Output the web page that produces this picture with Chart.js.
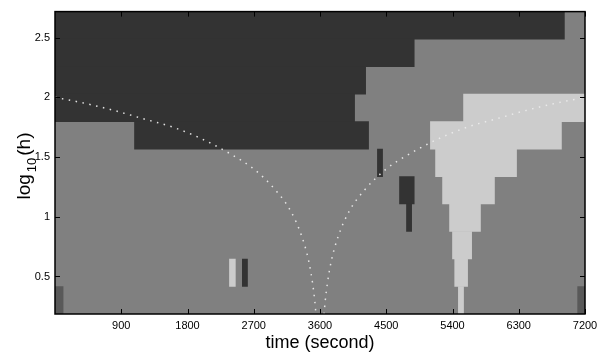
<!DOCTYPE html>
<html>
<head>
<meta charset="utf-8">
<script src="https://cdn.jsdelivr.net/npm/chart.js@4.4.1/dist/chart.umd.min.js"></script>
<style>
  html, body { margin: 0; padding: 0; background: #fff; }
  #wrap { width: 607px; height: 355px; position: relative; }
</style>
</head>
<body>
<div id="wrap"><canvas id="c"></canvas></div>
<script>
  // row centres in log10(h), bottom row first
  const hRows = [0.301, 0.531, 0.761, 0.991, 1.221, 1.451, 1.681, 1.911, 2.142, 2.372, 2.602];

  // cells per class: [row, start second, end second]
  const darkCells = [
    [10, 0, 6920], [9, 0, 4880], [8, 0, 4220], [7, 0, 4070], [6, 1080, 4260],
    [5, 4380, 4450], [4, 4680, 4880], [3, 4775, 4845], [1, 2545, 2615]
  ];
  const lightCells = [
    [7, 5550, 7200], [6, 5100, 6880], [5, 5170, 6270], [4, 5265, 5970],
    [3, 5360, 5780], [2, 5400, 5660], [1, 5430, 5605], [1, 2370, 2450], [0, 5480, 5550]
  ];
  const edgeCells = [[0, 0, 110], [0, 7100, 7200]];

  // dotted guide curves
  const leftT  = [0, 400, 800, 1200, 1600, 2000, 2400, 2700, 3000, 3200, 3350, 3450, 3500, 3530, 3545];
  const leftY  = [2.00, 1.95, 1.89, 1.82, 1.75, 1.65, 1.52, 1.40, 1.22, 1.05, 0.84, 0.62, 0.44, 0.29, 0.185];
  const rightT = [3655, 3670, 3700, 3750, 3850, 4000, 4200, 4500, 4800, 5200, 5600, 6000, 6400, 6800, 7200];
  const rightY = [0.185, 0.29, 0.44, 0.62, 0.84, 1.05, 1.22, 1.40, 1.52, 1.65, 1.75, 1.82, 1.89, 1.95, 2.00];

  const xTicks = [900, 1800, 2700, 3600, 4500, 5400, 6300, 7200];
  const yTicks = [0.5, 1, 1.5, 2, 2.5];

  const rowStep = hRows[1] - hRows[0];
  const yMin = hRows[0] - rowStep / 2;
  const yMax = hRows[hRows.length - 1] + rowStep / 2;
  const rowLabels = hRows.map(v => v.toFixed(3));

  const cellData = cells => cells.map(([r, s, e]) => ({ y: rowLabels[r], x: [s, e] }));
  const curve = (ts, ys) => ts.map((t, i) => ({ x: t, y: ys[i] }));

  const barBase = {
    type: "bar", indexAxis: "y", xAxisID: "x", yAxisID: "yRows",
    grouped: false, barPercentage: 1, categoryPercentage: 1, borderWidth: 0
  };
  const dotted = {
    type: "line", xAxisID: "x", yAxisID: "y", order: 0,
    borderColor: "rgba(235,235,235,0.95)", borderWidth: 1.5, borderDash: [1.5, 5.5],
    pointRadius: 0, cubicInterpolationMode: "monotone", fill: false
  };

  // mid gray under the cells so row joins don't show
  const plotBg = {
    id: "plotBg",
    beforeDatasetsDraw(chart){
      const { ctx, chartArea: a } = chart;
      ctx.save();
      ctx.fillStyle = "#808080";
      ctx.fillRect(a.left, a.top, a.right - a.left, a.bottom - a.top);
      ctx.restore();
    }
  };

  const frame = {
    id: "frame",
    afterDraw(chart){
      const { ctx, chartArea: a, scales } = chart;
      ctx.save();
      ctx.strokeStyle = "#000";
      ctx.lineWidth = 1;
      ctx.beginPath();
      xTicks.forEach(v => {
        const px = Math.round(scales.x.getPixelForValue(v)) + 0.5;
        ctx.moveTo(px, a.bottom); ctx.lineTo(px, a.bottom - 5);
        ctx.moveTo(px, a.top);    ctx.lineTo(px, a.top + 5);
      });
      yTicks.forEach(v => {
        const py = Math.round(scales.y.getPixelForValue(v)) + 0.5;
        ctx.moveTo(a.left, py);  ctx.lineTo(a.left + 5, py);
        ctx.moveTo(a.right, py); ctx.lineTo(a.right - 5, py);
      });
      ctx.stroke();
      ctx.lineWidth = 1.5;
      ctx.strokeRect(a.left, a.top, a.right - a.left, a.bottom - a.top);

      // axis titles
      const fam = "'Liberation Sans', Arial, sans-serif";
      ctx.fillStyle = "#000";
      ctx.font = `18px ${fam}`;
      ctx.textAlign = "center";
      ctx.textBaseline = "alphabetic";
      ctx.fillText("time (second)", (a.left + a.right) / 2, 348);

      ctx.translate(30, 166);
      ctx.rotate(-Math.PI / 2);
      ctx.textAlign = "left";
      const big = `19px ${fam}`, small = `13px ${fam}`, gap = 2;
      ctx.font = big;   const w1 = ctx.measureText("log").width;
      ctx.font = small; const w2 = ctx.measureText("10").width;
      ctx.font = big;   const w3 = ctx.measureText("(h)").width;
      let x0 = -(w1 + w2 + w3 + 2 * gap) / 2;
      ctx.font = big;   ctx.fillText("log", x0, 0); x0 += w1 + gap;
      ctx.font = small; ctx.fillText("10", x0, 6); x0 += w2 + gap;
      ctx.font = big;   ctx.fillText("(h)", x0, 0);
      ctx.restore();
    }
  };

  Chart.defaults.font.family = "'Liberation Sans', Arial, sans-serif";
  Chart.defaults.font.size = 11;
  Chart.defaults.color = "#000";

  new Chart(document.getElementById("c"), {
    type: "bar",
    data: {
      labels: rowLabels,
      datasets: [
        { ...dotted, data: curve(leftT, leftY) },
        { ...dotted, data: curve(rightT, rightY) },
        { ...barBase, order: 2, backgroundColor: "#333333", data: cellData(darkCells) },
        { ...barBase, order: 2, backgroundColor: "#cccccc", data: cellData(lightCells) },
        { ...barBase, order: 2, backgroundColor: "#595959", data: cellData(edgeCells) }
      ]
    },
    options: {
      responsive: true,
      maintainAspectRatio: false,
      animation: false,
      layout: { padding: { left: 0, right: 22, top: 6, bottom: 0 } },
      plugins: { legend: { display: false }, tooltip: { enabled: false } },
      scales: {
        x: {
          type: "linear", position: "bottom", min: 0, max: 7200, offset: false,
          grid: { display: false, drawTicks: false, offset: false }, border: { display: false },
          afterBuildTicks: s => { s.ticks = xTicks.map(v => ({ value: v })); },
          afterFit: s => { s.height = 41; },
          ticks: { padding: 5, maxRotation: 0, autoSkip: false, callback: v => String(v) }
        },
        y: {
          type: "linear", position: "left", min: yMin, max: yMax, offset: false,
          grid: { display: false, drawTicks: false }, border: { display: false },
          afterBuildTicks: s => { s.ticks = yTicks.map(v => ({ value: v })); },
          afterFit: s => { s.width = 55; },
          ticks: { padding: 5, callback: v => String(v) }
        },
        yRows: {
          type: "category", axis: "y", position: "left", reverse: true,
          offset: true, display: false, grid: { display: false }
        }
      }
    },
    plugins: [plotBg, frame]
  });
</script>
</body>
</html>
